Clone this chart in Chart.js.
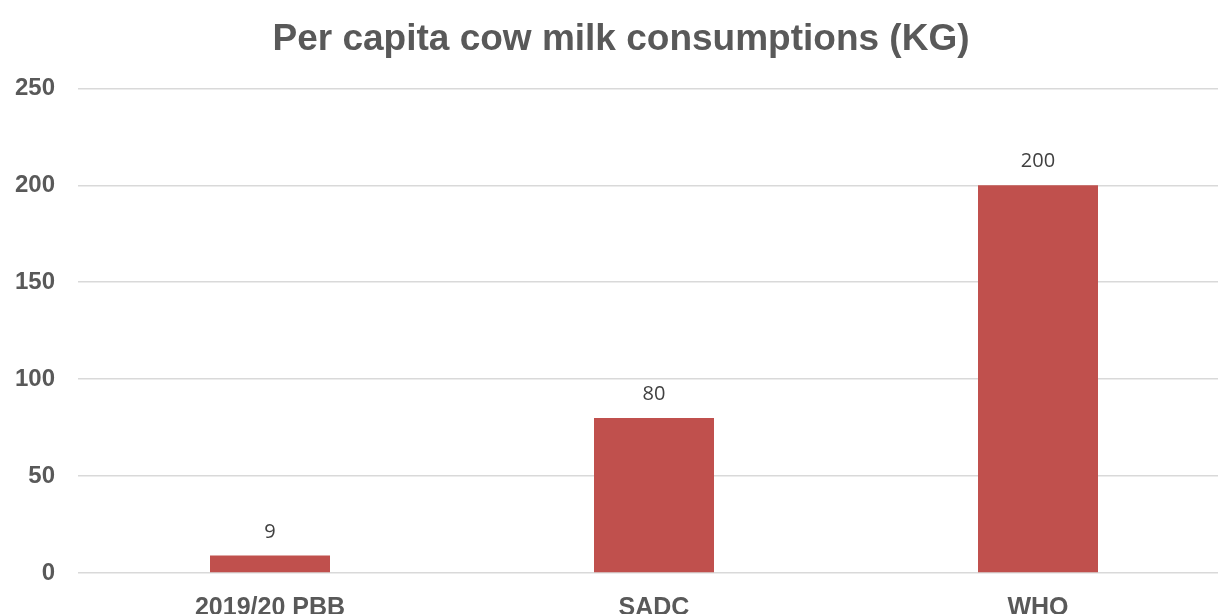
<!DOCTYPE html>
<html>
<head>
<meta charset="utf-8">
<script src="https://cdn.jsdelivr.net/npm/chart.js@4"></script>
<style>
  html, body { margin: 0; padding: 0; background: #fff; overflow: hidden; }
  #wrap { width: 1238px; height: 614px; margin-left: 12px; }
</style>
</head>
<body>
<div id="wrap"><canvas id="milkChart" width="1238" height="614"></canvas></div>
<script>
// Data
const categories = ['2019/20 PBB', 'SADC', 'WHO'];
const consumption = [9, 80, 200];
const yTicks = [0, 50, 100, 150, 200, 250];

// Value labels above the bars
const barLabels = {
    id: 'barLabels',
    afterDatasetsDraw(chart) {
        const ctx = chart.ctx;
        ctx.save();
        ctx.font = '20px "Open Sans", sans-serif';
        ctx.fillStyle = '#404040';
        ctx.textAlign = 'center';
        ctx.textBaseline = 'alphabetic';
        chart.getDatasetMeta(0).data.forEach((bar, i) => {
            ctx.fillText(consumption[i], bar.x, bar.y - 18);
        });
        ctx.restore();
    }
};

const ctx = document.getElementById('milkChart').getContext('2d');
new Chart(ctx, {
    type: 'bar',
    data: {
        labels: categories,
        datasets: [{
            data: consumption,
            backgroundColor: '#c0504d',
            barPercentage: 0.3125,
            categoryPercentage: 1
        }]
    },
    options: {
        responsive: false,
        animation: false,
        layout: { padding: { left: 0, right: 20, top: 0, bottom: 0 } },
        plugins: {
            legend: { display: false },
            tooltip: { enabled: false },
            title: {
                display: true,
                text: 'Per capita cow milk consumptions (KG)',
                color: '#595959',
                font: { family: '"Liberation Sans", Arial, sans-serif', size: 37, weight: 'bold' },
                padding: { top: 18, bottom: 26 }
            }
        },
        scales: {
            x: {
                grid: { display: false },
                border: { display: false },
                ticks: {
                    color: '#595959',
                    padding: 12,
                    font: { family: '"Liberation Sans", Arial, sans-serif', size: 25, weight: 'bold' }
                },
                afterFit(scale) { scale.height = 41; }
            },
            y: {
                min: 0,
                max: 250,
                afterBuildTicks(scale) { scale.ticks = yTicks.map(v => ({ value: v })); },
                grid: { color: '#d9d9d9', lineWidth: 1.5, drawTicks: false },
                border: { display: false },
                ticks: {
                    color: '#595959',
                    padding: 23,
                    font: { family: '"Liberation Sans", Arial, sans-serif', size: 24, weight: 'bold' }
                },
                afterFit(scale) { scale.width = 66; }
            }
        }
    },
    plugins: [barLabels]
});
</script>
</body>
</html>
